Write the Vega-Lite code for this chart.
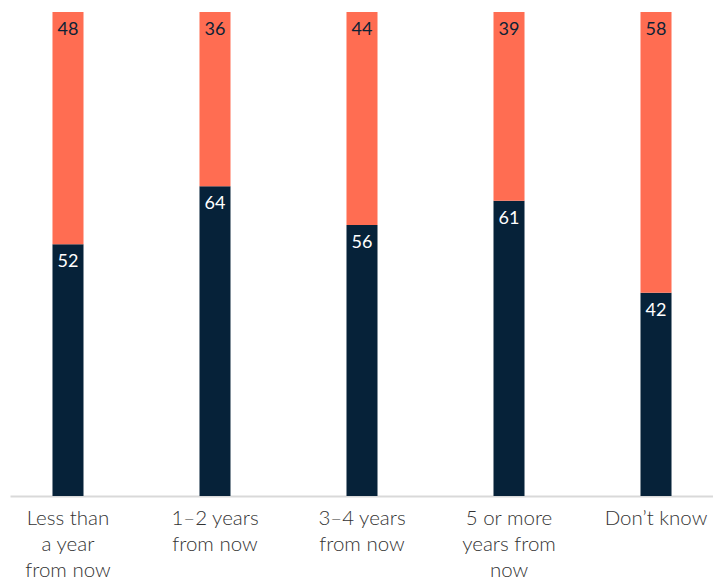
{
  "$schema": "https://vega.github.io/schema/vega-lite/v6.json",
  "width": 704,
  "height": 484,
  "autosize": {"type": "none"},
  "padding": {"left": 10, "top": 12, "right": 0, "bottom": 85},
  "config": {"view": {"stroke": null}, "font": "Lato"},
  "data": {
    "values": [
      {"cat": "Less than|a year|from now", "series": "a", "ord": 1, "value": 52},
      {"cat": "Less than|a year|from now", "series": "b", "ord": 2, "value": 48},
      {"cat": "1–2 years|from now", "series": "a", "ord": 1, "value": 64},
      {"cat": "1–2 years|from now", "series": "b", "ord": 2, "value": 36},
      {"cat": "3–4 years|from now", "series": "a", "ord": 1, "value": 56},
      {"cat": "3–4 years|from now", "series": "b", "ord": 2, "value": 44},
      {"cat": "5 or more|years from|now", "series": "a", "ord": 1, "value": 61},
      {"cat": "5 or more|years from|now", "series": "b", "ord": 2, "value": 39},
      {"cat": "Don’t know", "series": "a", "ord": 1, "value": 42},
      {"cat": "Don’t know", "series": "b", "ord": 2, "value": 58}
    ]
  },
  "transform": [
    {"stack": "value", "groupby": ["cat"], "sort": [{"field": "ord", "order": "ascending"}], "as": ["y0", "y1"]}
  ],
  "encoding": {
    "x": {
      "field": "cat",
      "type": "nominal",
      "sort": null,
      "scale": {"paddingInner": 0.789, "paddingOuter": 0.289},
      "axis": {
        "title": null,
        "labelAngle": 0,
        "ticks": false,
        "domainColor": "#d9d9d9",
        "domainWidth": 2,
        "labelExpr": "split(datum.label, '|')",
        "labelFontSize": 20.5,
        "labelFontWeight": 300,
        "labelColor": "#333333",
        "labelLineHeight": 26,
        "labelPadding": 12,
        "labelBaseline": "top",
        "labelFont": "Lato"
      }
    }
  },
  "layer": [
    {
      "mark": {"type": "bar"},
      "encoding": {
        "y": {"field": "y0", "type": "quantitative", "scale": {"domain": [0, 100]}, "axis": null},
        "y2": {"field": "y1"},
        "color": {
          "field": "series",
          "type": "nominal",
          "scale": {"domain": ["a", "b"], "range": ["#062239", "#ff6d52"]},
          "legend": null
        }
      }
    },
    {
      "mark": {"type": "text", "dy": 18, "baseline": "middle", "fontSize": 18, "font": "Lato"},
      "encoding": {
        "y": {"field": "y1", "type": "quantitative", "scale": {"domain": [0, 100]}},
        "text": {"field": "value", "type": "quantitative"},
        "color": {
          "condition": {"test": "datum.series === 'a'", "value": "#ffffff"},
          "value": "#0b2236"
        }
      }
    }
  ]
}
